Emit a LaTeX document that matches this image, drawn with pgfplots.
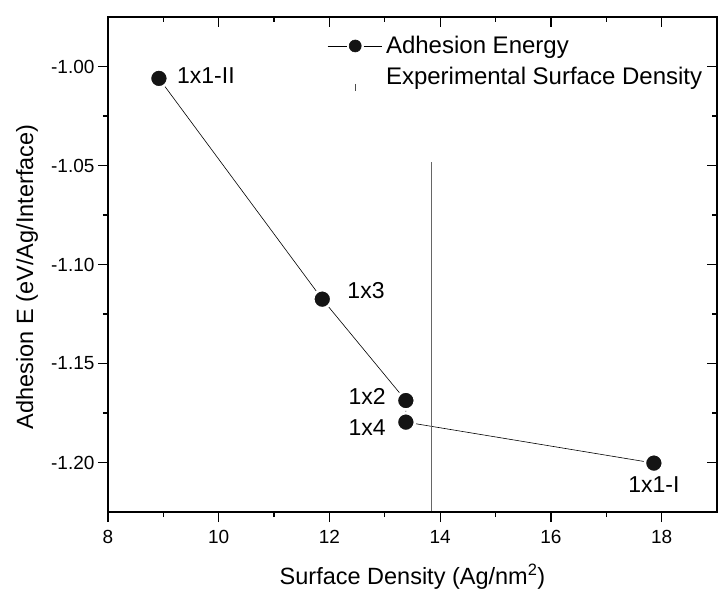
\documentclass[border=0pt]{standalone}
\usepackage{fontspec}
\setmainfont{Liberation Sans}
\usepackage{pgfplots}
\pgfplotsset{compat=1.18}

\pgfplotsset{
  frame/.style={
    scale only axis, width=609pt, height=495pt,
    xmin=8, xmax=19, ymin=-1.225, ymax=-0.975,
    xtick={8,10,12,14,16,18},
    ytick={-1.2,-1.15,-1.1,-1.05,-1},
    minor x tick num=1, minor y tick num=1,
    major tick length=10pt, minor tick length=5pt,
    every tick/.style={black, line width=1.2pt},
    axis line style={line width=1.6pt},
  },
}

\begin{document}
\begin{tikzpicture}
\begin{axis}[frame,
  tick align=outside, xtick pos=left, ytick pos=left,
  xticklabels={8,10,12,14,16,18},
  yticklabels={-1.20,-1.15,-1.10,-1.05,-1.00},
  tick label style={font=\fontsize{19}{23}\selectfont},
  x tick label style={yshift=-5pt},
  xlabel={Surface Density (Ag/nm\textsuperscript{2})},
  ylabel={Adhesion E (eV/Ag/Interface)},
  label style={font=\fontsize{23.5}{27}\selectfont},
  xlabel style={at={(axis description cs:0.5,-0.1455)}, anchor=base},
  ylabel style={at={(axis description cs:-0.123,0.475)}, anchor=base},
  legend style={draw=none, fill=none, at={(axis description cs:0.36,0.965)}, anchor=north west,
    font=\fontsize{24}{28}\selectfont, row sep=8pt, inner sep=0pt,
    nodes={inner xsep=4pt, inner ysep=2pt}},
  legend cell align=left,
]
\addplot[black, line width=0.6pt, mark=*, mark size=9pt,
  mark options={fill=black!92, draw=white, line width=2.5pt},
  legend image code/.code={
    \draw[black, line width=0.6pt] (0pt,0pt) -- (19pt,0pt);
    \draw[black, line width=0.6pt] (36pt,0pt) -- (54pt,0pt);
    \fill[black!92] (27.5pt,0pt) circle (6pt);
  }] coordinates {
  (8.92,-1.006) (11.87,-1.1175) (13.38,-1.1687) (13.38,-1.1796) (17.86,-1.2003)
};
\addlegendentry{Adhesion Energy}
\addplot[black!60, line width=1.5pt,
  legend image code/.code={
    \draw[black!70, line width=1.2pt] (27.5pt,-7pt) -- (27.5pt,-14pt);
  }] coordinates {
  (13.84,-1.225) (13.84,-1.048)
};
\addlegendentry{Experimental Surface Density}

\begin{scope}[font=\fontsize{23}{27}\selectfont]
\node[anchor=west, inner sep=0pt, xshift=18pt, yshift=3pt] at (axis cs:8.92,-1.006) {1x1-II};
\node[anchor=west, inner sep=0pt, xshift=25pt, yshift=9pt] at (axis cs:11.87,-1.1175) {1x3};
\node[anchor=east, inner sep=0pt, xshift=-20pt, yshift=4pt] at (axis cs:13.38,-1.1687) {1x2};
\node[anchor=east, inner sep=0pt, xshift=-20pt, yshift=-5pt] at (axis cs:13.38,-1.1796) {1x4};
\node[anchor=center, inner sep=0pt, yshift=-21pt] at (axis cs:17.86,-1.2003) {1x1-I};
\end{scope}
\end{axis}

\begin{axis}[frame,
  tick align=inside, xtick pos=right, ytick pos=right,
  xticklabels={}, yticklabels={},
]
\end{axis}
\pgfresetboundingbox
\useasboundingbox (-108pt,-78pt) rectangle (611pt,512pt);
\end{tikzpicture}
\end{document}
